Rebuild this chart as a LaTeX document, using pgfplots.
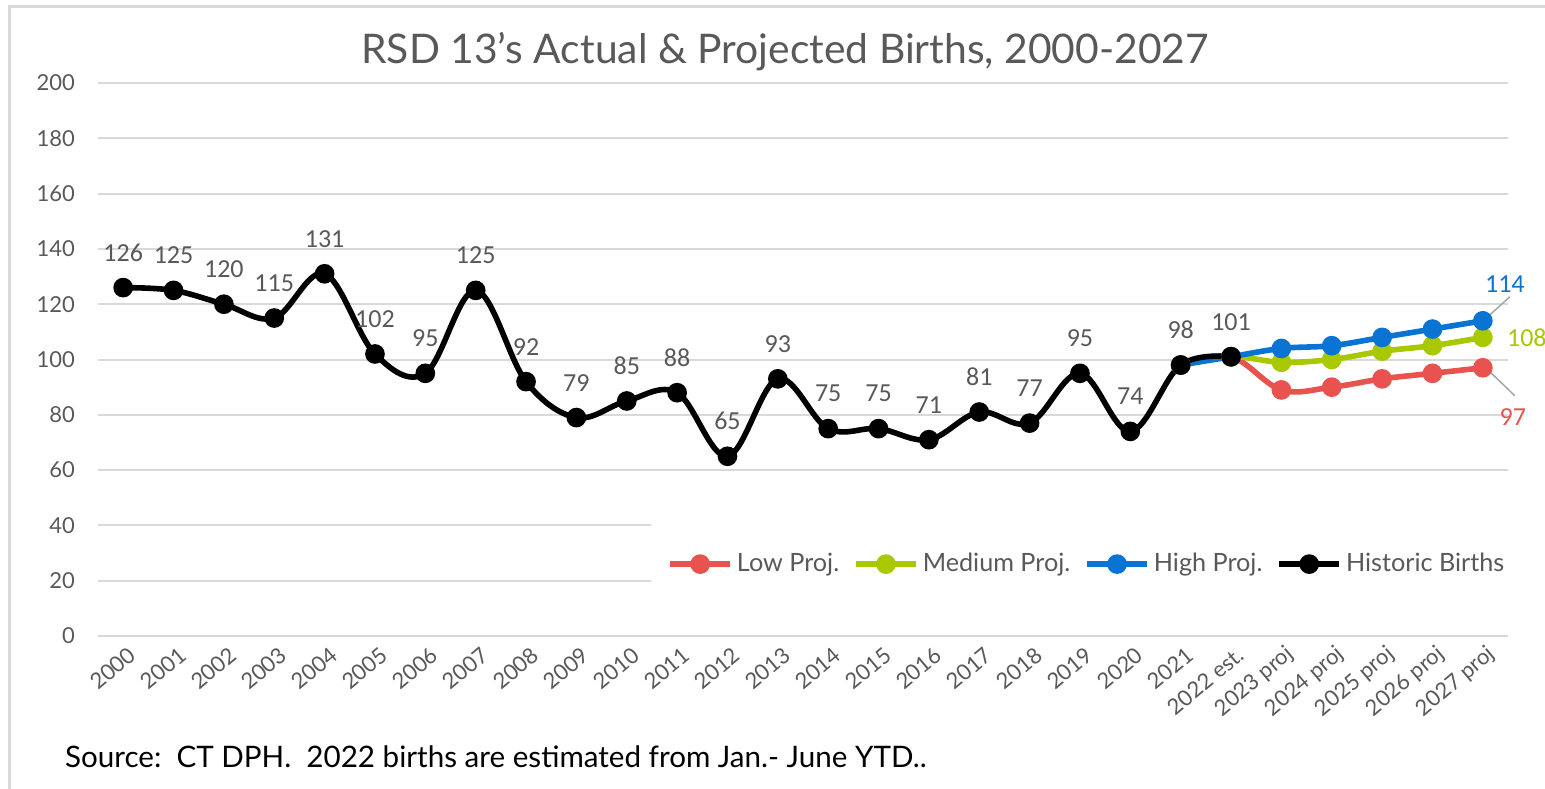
\documentclass[border=0pt]{standalone}
\usepackage{pgfplots}
\pgfplotsset{compat=1.18}
\usepackage{fontspec}
\setmainfont{Lato}
\newfontfamily\labelfont{Carlito}
\definecolor{lowc}{HTML}{E8534F}
\definecolor{medc}{HTML}{A9C800}
\definecolor{highc}{HTML}{0A74D4}
\definecolor{txt}{HTML}{595959}
\definecolor{gridc}{HTML}{D9D9D9}
\begin{document}
\begin{tikzpicture}[x=0.5pt,y=0.5pt]
\useasboundingbox (0,0) rectangle (1545,788);
\draw[gridc, line width=1.5pt] (9,-5) -- (9,781) -- (1550,781);
\node[text=txt, font=\fontsize{20.4}{24}\selectfont] at (785,736) {RSD 13's Actual \& Projected Births, 2000-2027};
\node[anchor=west, font=\fontsize{14.8}{16}\selectfont] at (58,31) {Source:\ \ CT DPH.\ \ 2022 births are estimated from Jan.- June YTD..};
\begin{axis}[
  at={(49pt,76pt)}, anchor=south west, scale only axis,
  width=705pt, height=276.5pt,
  xmin=-0.5, xmax=27.5, ymin=0, ymax=200,
  ytick={0,20,...,200},
  xtick={0,...,27},
  xticklabels={2000,2001,2002,2003,2004,2005,2006,2007,2008,2009,2010,2011,2012,2013,2014,2015,2016,2017,2018,2019,2020,2021,2022 est.,2023 proj,2024 proj,2025 proj,2026 proj,2027 proj},
  axis line style={draw=none},
  major tick length=0pt,
  ymajorgrids, grid style={gridc, line width=1pt},
  clip=false,
  /pgf/number format/assume math mode=true,
  tick label style={text=txt, font=\fontsize{11}{12}\selectfont},
  yticklabel style={xshift=-8pt},
  xticklabel style={rotate=40, anchor=east, xshift=2pt, yshift=-9pt},
  legend columns=4,
  legend style={at={(0.702,0.130)}, anchor=center, draw=none, fill=white,
    inner xsep=8pt, inner ysep=16pt, font=\fontsize{12.6}{14}\selectfont, text=txt,
    /tikz/every even column/.append style={column sep=5pt}},
  legend image code/.code={\draw[mark repeat=2,mark phase=2,#1] plot coordinates {(0pt,0pt)(15pt,0pt)(30pt,0pt)};},
  every axis plot/.append style={line width=2.8pt, smooth, tension=0.6, mark=*, mark size=3.5pt, mark options={solid}},
]
\addplot[lowc] coordinates {(21,98)(22,101)(23,89)(24,90)(25,93)(26,95)(27,97)};
\addlegendentry{Low Proj.}
\addplot[medc] coordinates {(21,98)(22,101)(23,99)(24,100)(25,103)(26,105)(27,108)};
\addlegendentry{Medium Proj.}
\addplot[highc] coordinates {(21,98)(22,101)(23,104)(24,105)(25,108)(26,111)(27,114)};
\addlegendentry{High Proj.}
\addplot[black, nodes near coords,
  every node near coord/.append style={font=\labelfont\fontsize{13}{14}\selectfont, text=txt, anchor=center, yshift=17.5pt}]
  coordinates {(0,126)(1,125)(2,120)(3,115)(4,131)(5,102)(6,95)(7,125)(8,92)(9,79)(10,85)(11,88)(12,65)(13,93)(14,75)(15,75)(16,71)(17,81)(18,77)(19,95)(20,74)(21,98)(22,101)};
\addlegendentry{Historic Births}
\node[text=highc, font=\labelfont\fontsize{13}{14}\selectfont, xshift=11pt, yshift=18.5pt] at (axis cs:27,114) {114};
\node[text=medc, font=\labelfont\fontsize{13}{14}\selectfont, xshift=22pt] at (axis cs:27,108) {108};
\node[text=lowc, font=\labelfont\fontsize{13}{14}\selectfont, xshift=15pt, yshift=-24.5pt] at (axis cs:27,97) {97};
\draw[gray!70, line width=0.75pt] ([shift={(3pt,2.5pt)}]axis cs:27,114) -- ([shift={(13.5pt,12pt)}]axis cs:27,114);
\draw[gray!70, line width=0.75pt] ([shift={(3pt,-1.5pt)}]axis cs:27,97) -- ([shift={(16pt,-14pt)}]axis cs:27,97);
\end{axis}
\end{tikzpicture}
\end{document}
